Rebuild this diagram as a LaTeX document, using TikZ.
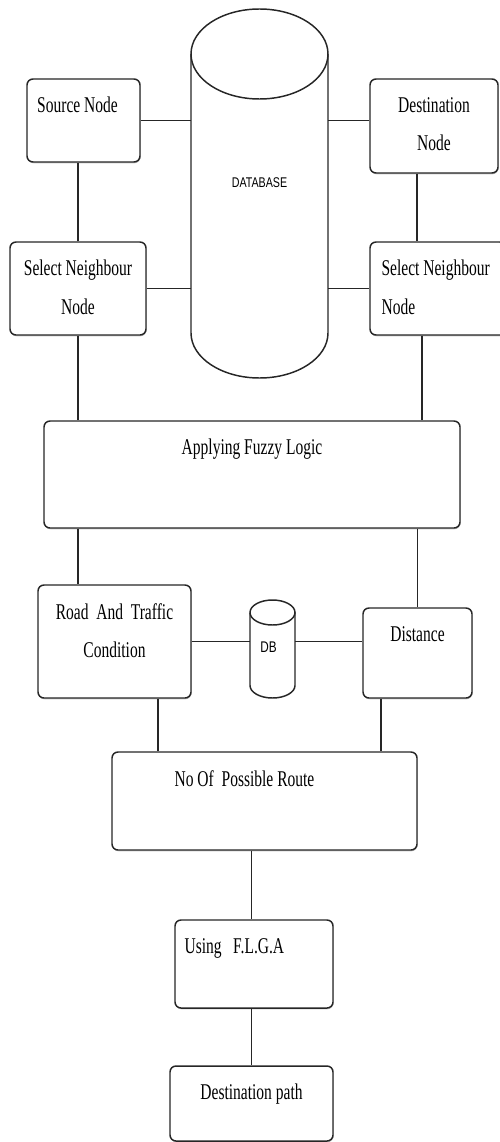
\documentclass[tikz,border=0pt]{standalone}
\usepackage{fontspec}
\setmainfont{Liberation Serif}[FakeStretch=0.69]
\newfontfamily\dbfont{Liberation Sans}[FakeStretch=0.76]
\usetikzlibrary{shadows}
\definecolor{edgegray}{HTML}{262626}
\tikzset{
  box/.style={draw=edgegray, line width=1.05pt, rounded corners=0.15cm, fill=white,
              inner sep=0pt, drop shadow={shadow xshift=0.4pt, shadow yshift=-0.9pt, opacity=0.45}},
  lbl/.style={inner sep=0pt, font=\fontsize{16}{27.5}\selectfont, align=center,
              anchor=north, yshift=-0.47cm},
  lblleft/.style={lbl, align=left, anchor=north west},
  body/.style={inner sep=0pt, outer sep=0pt},
  dblbl/.style={inner sep=0pt, font=\dbfont\fontsize{10}{12}\selectfont},
  link/.style={draw=edgegray, line width=1.05pt},
}

\begin{document}
\begin{tikzpicture}
  \path[use as bounding box, clip] (0,0) rectangle (12.5,-28.55);

  % boxes
  \node (src)    [box, minimum width=2.825cm, minimum height=2.075cm,
                  label={[lbl, xshift=-0.15cm]north:Source Node}] at (2.0875,-3.0125) {};
  \node (dst)    [box, minimum width=3.2cm, minimum height=2.35cm,
                  label={[lbl]north:{Destination\\Node}}] at (10.85,-3.15) {};
  \node (selL)   [box, minimum width=3.4cm, minimum height=2.325cm,
                  label={[lbl]north:{Select Neighbour\\Node}}] at (1.95,-7.2125) {};
  \node (selR)   [box, minimum width=3.4cm, minimum height=2.325cm,
                  label={[lblleft, xshift=0.3cm]north west:{Select Neighbour\\Node}}] at (10.95,-7.2125) {};
  \node (fuzzy)  [box, minimum width=10.4cm, minimum height=2.675cm,
                  label={[lbl]north:Applying Fuzzy Logic}] at (6.3,-11.8625) {};
  \node (road)   [box, minimum width=3.825cm, minimum height=2.825cm,
                  label={[lbl]north:{Road\ \ And\ \ Traffic\\Condition}}] at (2.8625,-16.0375) {};
  \node (dist)   [box, minimum width=2.725cm, minimum height=2.25cm,
                  label={[lbl]north:Distance}] at (10.4375,-16.325) {};
  \node (routes) [box, minimum width=7.625cm, minimum height=2.45cm,
                  label={[lbl, xshift=-0.5cm]north:No Of\ \ Possible Route}] at (6.6125,-20.025) {};
  \node (flga)   [box, minimum width=3.95cm, minimum height=2.2cm,
                  label={[lblleft, xshift=0.25cm]north west:Using\ \ \ F.L.G.A}] at (6.35,-24.1) {};
  \node (dpath)  [box, minimum width=4.075cm, minimum height=1.875cm,
                  label={[lbl]north:Destination path}] at (6.2875,-27.5875) {};

  % databases
  \node (dbase) [body, minimum width=3.425cm, minimum height=6.975cm] at (6.4875,-4.8375) {};
  \draw[link] (dbase.north west) -- (dbase.south west)
    arc[start angle=180, end angle=360, x radius=1.7125cm, y radius=1.125cm] -- (dbase.north east);
  \draw[link] (dbase.north) ellipse [x radius=1.7125cm, y radius=1.125cm];
  \node (dbasetag) [dblbl] at ([yshift=0.26cm]dbase.center) {DATABASE};

  \node (db) [body, minimum width=1.125cm, minimum height=1.825cm] at (6.8125,-16.225) {};
  \draw[link] (db.north west) -- (db.south west)
    arc[start angle=180, end angle=360, x radius=0.5625cm, y radius=0.3125cm] -- (db.north east);
  \draw[link] (db.north) ellipse [x radius=0.5625cm, y radius=0.3125cm];
  \node (dbtag) [dblbl, font=\dbfont\fontsize{11}{13}\selectfont] at ([xshift=-0.1cm, yshift=0.05cm]db.center) {DB};

  % connectors
  \coordinate (dstout)  at ([xshift=-0.425cm]dst.south);
  \coordinate (selRout) at ([xshift=-0.4cm]selR.south);
  \coordinate (roadout) at ([xshift=1.0875cm]road.south);
  \coordinate (distout) at ([xshift=-0.9125cm]dist.south);

  \draw[link] (src.east) -- (src.east -| dbase.west);
  \draw[link] (dbase.east |- src.east) -- (dst.west |- src.east);
  \draw[link] (selL.east) -- (selL.east -| dbase.west);
  \draw[link] (dbase.east |- selL.east) -- (selR.west |- selL.east);
  \draw[link] (selL.north) -- (selL.north |- src.south);
  \draw[link] (dstout) -- (dstout |- selR.north);
  \draw[link] (selL.south) -- (selL.south |- fuzzy.north);
  \draw[link] (selRout) -- (selRout |- fuzzy.north);
  \draw[link] (selL.south |- fuzzy.south) -- (selL.south |- road.north);
  \draw[link] (dist.north |- fuzzy.south) -- (dist.north);
  \draw[link] (road.east) -- (road.east -| db.west);
  \draw[link] (db.east |- road.east) -- (dist.west |- road.east);
  \draw[link] (roadout) -- (roadout |- routes.north);
  \draw[link] (distout) -- (distout |- routes.north);
  \draw[link] (dpath.north |- routes.south) -- (dpath.north |- flga.north);
  \draw[link] (dpath.north |- flga.south) -- (dpath.north);
\end{tikzpicture}
\end{document}
